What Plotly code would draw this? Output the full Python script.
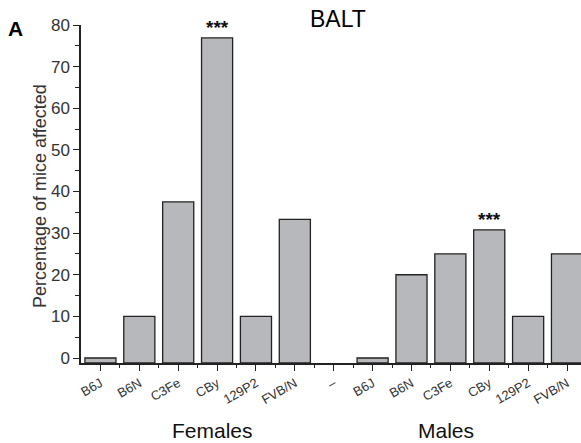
import plotly.graph_objects as go

strains = ["B6J", "B6N", "C3Fe", "CBy", "129P2", "FVB/N"]
tick_labels = strains + ["–"] + strains
females = [0, 10, 37.5, 76.9, 10, 33.3]
males = [0, 20, 25, 30.8, 10, 25]
values = females + [None] + males
y_min = -1.2

x_pos = list(range(len(tick_labels)))
lengths = [None if v is None else v - y_min for v in values]

fig = go.Figure()
fig.add_trace(go.Bar(
    x=x_pos, y=lengths, base=y_min, width=0.8,
    marker=dict(color="#b7b8bc", line=dict(color="#222222", width=1.3)),
    hoverinfo="skip", showlegend=False,
))

fig.update_layout(
    width=581, height=443,
    margin=dict(l=81, r=0, t=25, b=80),
    paper_bgcolor="white", plot_bgcolor="white",
    font=dict(family="Liberation Sans, Arial, sans-serif", color="#333333"),
    xaxis=dict(
        automargin=False,
        range=[-0.5, 12.36], tickmode="array", tickvals=x_pos, ticktext=tick_labels,
        tickangle=-30, tickfont=dict(size=13, color="#333333"),
        ticks="outside", ticklen=6, tickcolor="#222222", tickwidth=1.2,
        showline=True, linecolor="#222222", linewidth=1.5,
        showgrid=False, zeroline=False,
        minor=dict(tickmode="array", tickvals=[i + 0.5 for i in range(12)],
                   ticks="outside", ticklen=3, tickcolor="#222222", tickwidth=1.2),
    ),
    yaxis=dict(
        automargin=False,
        range=[y_min, 80], tickmode="array", tickvals=list(range(0, 81, 10)),
        tickfont=dict(size=17, color="#333333"),
        ticks="outside", ticklen=6, tickcolor="#222222", tickwidth=1.2,
        showline=True, linecolor="#222222", linewidth=1.5,
        showgrid=False, zeroline=False,
        minor=dict(tickmode="array", tickvals=list(range(5, 80, 10)),
                   ticks="outside", ticklen=4, tickcolor="#222222", tickwidth=1.2),
    ),
)

ann = [
    dict(text="BALT", x=338, y=19, size=23, angle=0, color="#000000"),
    dict(text="<b>A</b>", x=15, y=28, size=21, angle=0, color="#000000"),
    dict(text="Females", x=212, y=430, size=21, angle=0, color="#111111"),
    dict(text="Males", x=446, y=430, size=21, angle=0, color="#111111"),
    dict(text="Percentage of mice affected", x=40, y=196, size=18, angle=-90, color="#333333"),
]
for a in ann:
    fig.add_annotation(text=a["text"], xref="paper", yref="paper",
                       x=(a["x"] - 81) / 500, y=(443 - 80 - a["y"]) / 338,
                       showarrow=False, xanchor="center", yanchor="middle",
                       textangle=a["angle"], borderpad=0,
                       font=dict(size=a["size"], color=a["color"]))

for idx in [3, 10]:
    fig.add_annotation(text="<b>***</b>", x=x_pos[idx], y=values[idx], xref="x", yref="y",
                       showarrow=False, yanchor="bottom", yshift=-2,
                       font=dict(size=19, color="#111111"))

fig.write_html("out.html", config={"displayModeBar": False},
               post_script="document.body.style.margin='0px';document.body.style.overflow='hidden';")
